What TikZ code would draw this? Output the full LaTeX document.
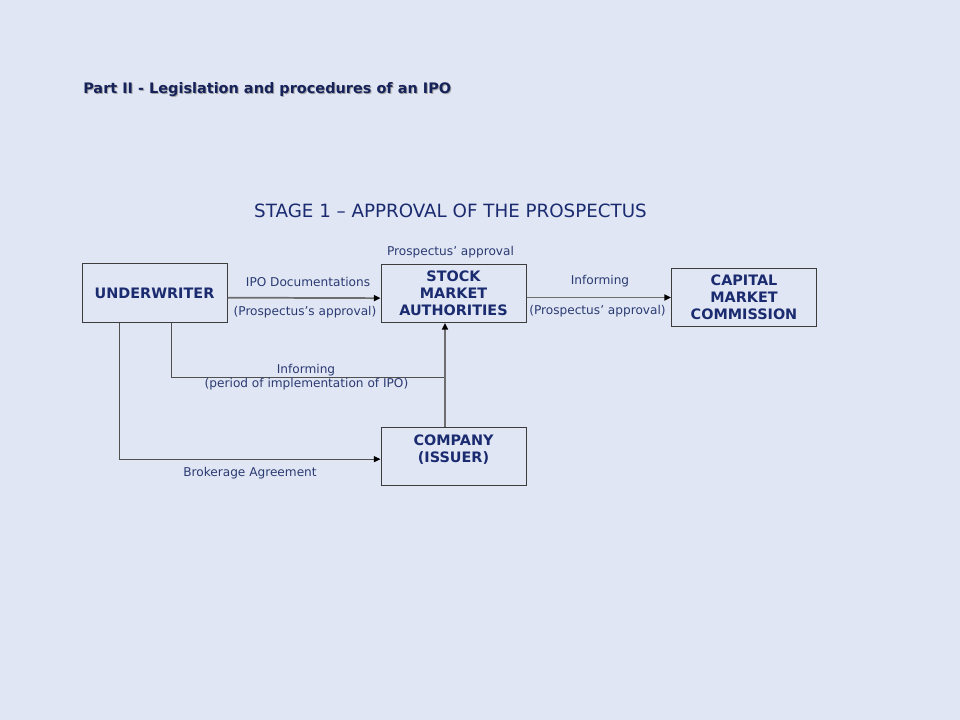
\documentclass[tikz,border=0pt]{standalone}
\usepackage{fontspec}
\setmainfont{DejaVu Sans}
\usetikzlibrary{calc,arrows.meta}
\definecolor{pagebg}{HTML}{E0E6F4}
\definecolor{navy}{HTML}{1B2B70}
\definecolor{labelblue}{HTML}{2B3B72}
\definecolor{boxline}{HTML}{3C3C3C}
\definecolor{wire}{HTML}{6E6E6E}
\tikzset{
	stagebox/.style={draw=boxline, line width=0.75pt, minimum width=108.75pt, minimum height=43.5pt,
		align=center, inner sep=0pt, text=navy, font=\bfseries\fontsize{10.8}{12.75}\selectfont},
	boxtext/.style={align=center, inner sep=0pt, text=navy, font=\bfseries\fontsize{10.8}{12.75}\selectfont},
	lbl/.style={text=labelblue, font=\fontsize{9.1}{10.5}\selectfont, inner sep=0pt},
	arr/.style={draw=wire, line width=1.3pt, -{Triangle[length=5pt,width=4.5pt,color=black]}},
	wiredark/.style={draw=boxline!90!white, line width=0.75pt}
}
\begin{document}
\begin{tikzpicture}[x=0.75pt, y=-0.75pt]
		%%%%% BACKGROUND %%%%%
		\fill[pagebg] (0, 0) rectangle (960, 720);
		\useasboundingbox (0, 0) rectangle (960, 720);
		
		%%%%% HEADINGS %%%%%
		\node[anchor=west, text=black!35, font=\bfseries\fontsize{10.85}{12}\selectfont, inner sep=0pt] (partshadow) at (84, 90.5) {Part II - Legislation and procedures of an IPO};
		\node[anchor=west, text=navy!80!black, font=\bfseries\fontsize{10.85}{12}\selectfont, inner sep=0pt] (part) at (83, 89.5) {Part II - Legislation and procedures of an IPO};
		\node[text=navy, font=\fontsize{13.7}{15}\selectfont, inner sep=0pt] (stage) at (450.5, 211) {STAGE 1 – APPROVAL OF THE PROSPECTUS};
		
		%%%%% BOXES %%%%%
		\node[stagebox] (uw) at (154.5, 293) {UNDERWRITER};
		\node[stagebox] (sma) at (453.5, 293.5) {STOCK\\MARKET\\AUTHORITIES};
		\node[stagebox] (cmc) at (744, 297.5) {CAPITAL\\MARKET\\COMMISSION};
		\node[stagebox] (co) at (453.5, 456.5) {};
		\node[boxtext] (cotext) at ([yshift=5.25pt]co.center) {COMPANY\\(ISSUER)};
		
		%%%%% CONNECTORS %%%%%
		\draw[arr] ([yshift=-3.5pt]uw.east) -- ([yshift=-3.5pt]sma.west);
		\draw[arr] (sma.east |- cmc.west) -- (cmc.west);
		
		\coordinate (uwinf) at ([xshift=13pt]uw.south);
		\coordinate (uwbrk) at ([xshift=-26.6pt]uw.south);
		\coordinate (smain) at ([xshift=-6.4pt]sma.south);
		\coordinate (coout) at ([xshift=-6.4pt]co.north);
		\coordinate (join) at (smain |- 0, 377);
		
		\draw[wiredark] (uwinf) |- (join);
		\draw[arr] (coout) -- (smain);
		\draw[wiredark, -{Triangle[length=5pt,width=4.5pt,color=black]}] (uwbrk) |- ([yshift=-2pt]co.west);
		
		%%%%% LABELS %%%%%
		\node[lbl] (approval) at (450.5, 252) {Prospectus’ approval};
		\node[lbl] (ipodoc) at (308, 281.5) {IPO Documentations};
		\node[lbl] (ipoapp) at (305, 312) {(Prospectus’s approval)};
		\node[lbl] (inf1) at (600, 281.5) {Informing};
		\node[lbl] (inf1app) at (597.5, 311.5) {(Prospectus’ approval)};
		\node[lbl] (inf2) at (306, 370) {Informing};
		\node[lbl] (inf2per) at (306.5, 384.5) {(period of implementation of IPO)};
		\node[lbl] (brk) at (250, 473.5) {Brokerage Agreement};
		
		%%%%% END %%%%%
	\end{tikzpicture}
\end{document}
